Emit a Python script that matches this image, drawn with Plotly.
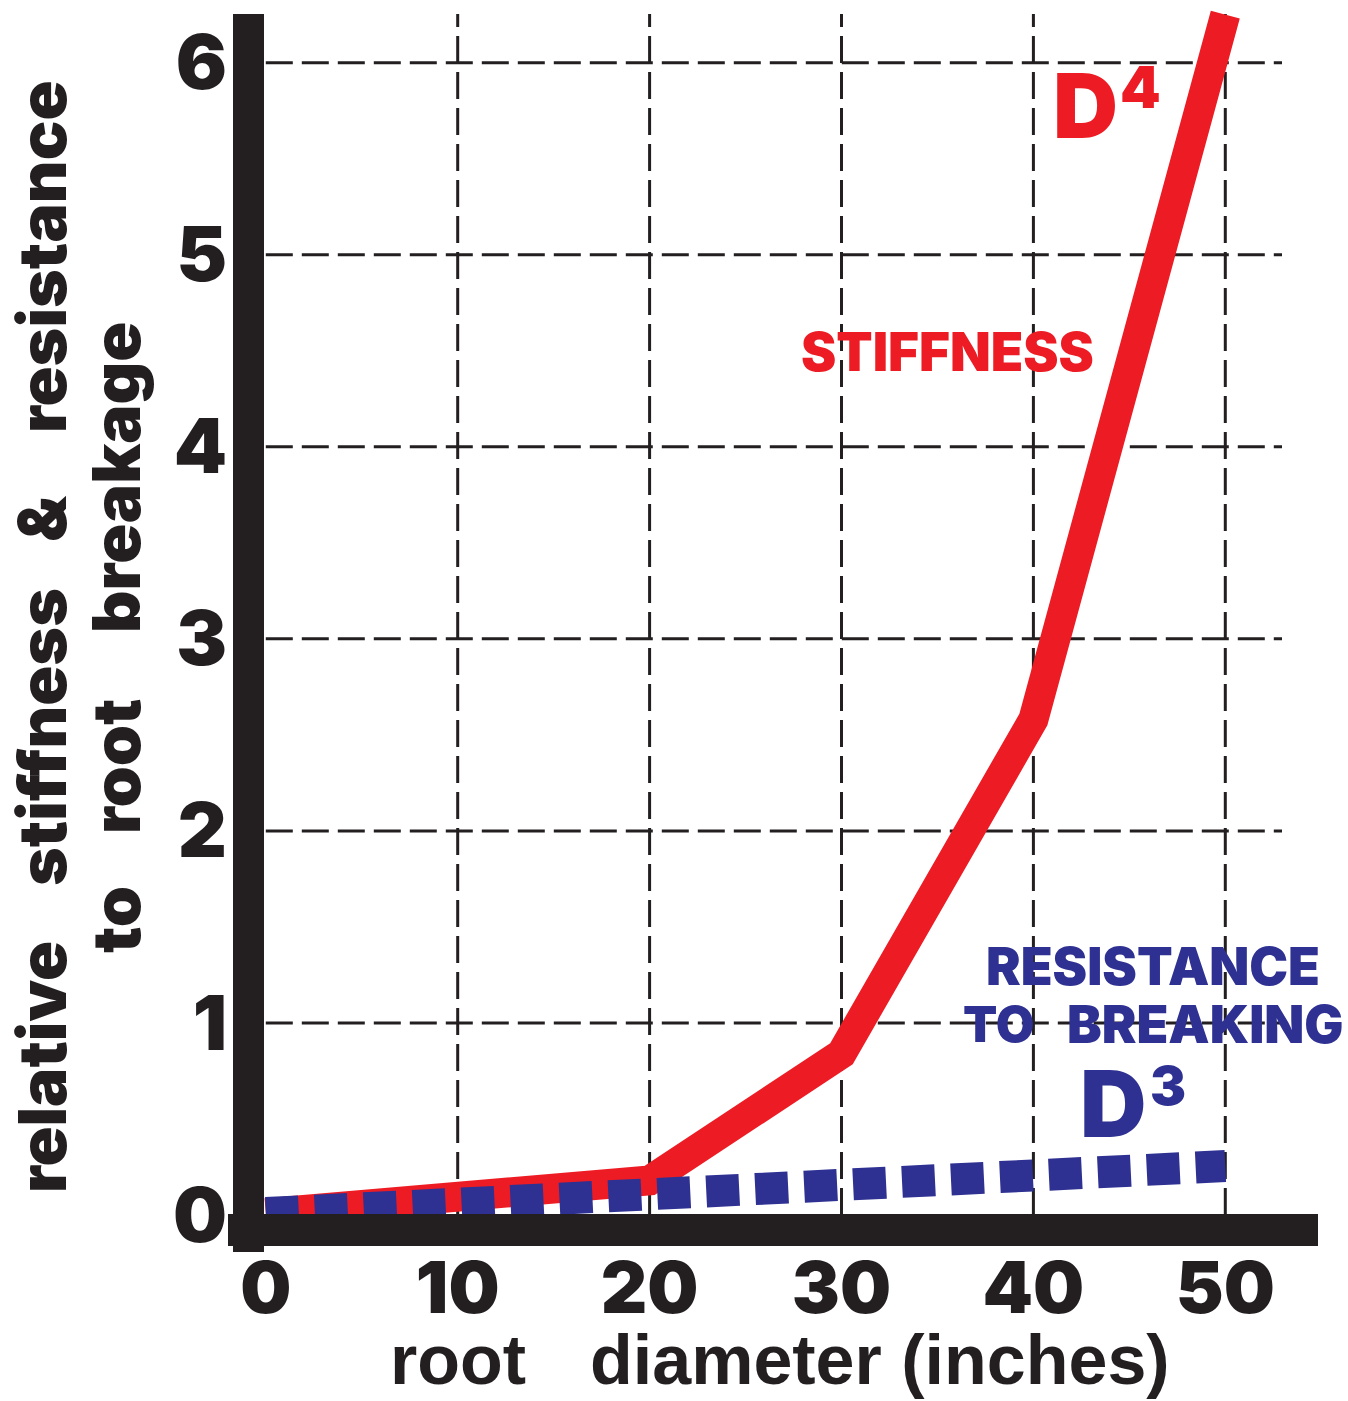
import plotly.graph_objects as go

# ---------------- data ----------------
stiff_x = [0, 20, 30, 40, 50]
stiff_y = [0.01, 0.18, 0.84, 2.58, 6.25]
resist_x = [0, 10, 20, 30, 40, 50]
resist_y = [0.01, 0.06, 0.10, 0.15, 0.20, 0.255]
x_tickvals = [0, 10, 20, 30, 40, 50]
x_ticktext = ["0", "10", "20", "30", "40", "50"]
y_tickvals = [0, 1, 2, 3, 4, 5, 6]
y_ticktext = ["0", "1", "2", "3", "4", "5", "6"]
x_grid = [10, 20, 30, 40, 50]
y_grid = [1, 2, 3, 4, 5, 6]

# ---------------- geometry ----------------
W, H = 1348, 1401
L, R, T, B = 228, 23, 0, 141
PW, PH = W - L - R, H - T - B
X0PX, XUNIT = 265.8, 19.19
Y0PX, YUNIT = 1215.0, 192.06
xrange = [(L - X0PX) / XUNIT, (W - R - X0PX) / XUNIT]
yrange = [(Y0PX - (H - B)) / YUNIT, (Y0PX - T) / YUNIT]


def px(x):
    return (x - L) / PW


def py(y):
    return (H - B - y) / PH


RED = "#ed1c24"
BLUE = "#2e3192"
BLACK = "#231f20"
HEAVY = "Inter, Roboto, 'Liberation Sans', Arial, sans-serif"
PLAIN = "'Liberation Sans', Arial, sans-serif"

fig = go.Figure()
fig.add_trace(go.Scatter(x=stiff_x, y=stiff_y, mode="lines",
                         line=dict(color=RED, width=30), hoverinfo="skip"))
fig.add_trace(go.Scatter(x=resist_x, y=resist_y, mode="lines",
                         line=dict(color=BLUE, width=32, dash="33px,16px"),
                         hoverinfo="skip"))

shapes = []
grid_top = (Y0PX - 14) / YUNIT
grid_right = (1282 - X0PX) / XUNIT
for gx in x_grid:
    shapes.append(dict(type="line", xref="x", yref="y", x0=gx, x1=gx, y0=0, y1=grid_top,
                       line=dict(color=BLACK, width=3, dash="27px,9px"), layer="below"))
for gy in y_grid:
    shapes.append(dict(type="line", xref="x", yref="y", x0=0, x1=grid_right, y0=gy, y1=gy,
                       line=dict(color=BLACK, width=3, dash="27px,9px"), layer="below"))
# thick black axis bars
shapes.append(dict(type="rect", xref="paper", yref="paper", x0=px(233), x1=px(264),
                   y0=py(1252), y1=py(14), fillcolor=BLACK, line=dict(width=0), layer="below"))
shapes.append(dict(type="rect", xref="paper", yref="paper", x0=px(228), x1=px(1318),
                   y0=py(1246), y1=py(1214), fillcolor=BLACK, line=dict(width=0), layer="above"))

ann = []


def text(t, x, y, size, color=BLACK, angle=0, family=HEAVY, weight=900, yanchor="middle"):
    ann.append(dict(text=t, x=px(x), y=py(y), xref="paper", yref="paper",
                    xanchor="center", yanchor=yanchor, showarrow=False, textangle=angle,
                    font=dict(family=family, size=size, color=color, weight=weight)))


# series labels
text("D", 1085, 105, 90, RED)
text("4", 1140, 87, 58, RED)
text("STIFFNESS", 947, 352, 53, RED)
text("RESISTANCE", 1153, 967, 52, BLUE)
text("TO", 998, 1024, 50, BLUE)
text("BREAKING", 1205, 1024, 52, BLUE)
text("D", 1113, 1103, 92, BLUE)
text("3", 1168, 1085, 54, BLUE)

# y axis title (two rotated lines, words spread out)
for word, yc in [("relative", 1067), ("stiffness", 737), ("&", 518), ("resistance", 257)]:
    text(word, 42, yc, 66, BLACK, angle=-90)
for word, yc in [("to", 920), ("root", 767), ("breakage", 478)]:
    text(word, 116, yc, 66, BLACK, angle=-90)

# x axis title
text("root", 458, 1401, 70, BLACK, family=PLAIN, weight=700, yanchor="bottom")
text("diameter (inches)", 880, 1401, 70, BLACK, family=PLAIN, weight=700, yanchor="bottom")

fig.update_layout(
    width=W, height=H,
    margin=dict(l=L, r=R, t=T, b=B, pad=0),
    paper_bgcolor="white", plot_bgcolor="white",
    showlegend=False,
    shapes=shapes, annotations=ann,
    xaxis=dict(range=xrange, tickvals=x_tickvals, ticktext=x_ticktext, showgrid=False,
               zeroline=False, showline=False, ticks="", ticklabelstandoff=-20,
               tickfont=dict(family=HEAVY, size=72, color=BLACK, weight=900)),
    yaxis=dict(range=yrange, tickvals=y_tickvals, ticktext=y_ticktext, showgrid=False,
               zeroline=False, showline=False, ticks="",
               tickfont=dict(family=HEAVY, size=76, color=BLACK, weight=900)),
)

fig.write_html("out.html", config={"displayModeBar": False},
               post_script="document.body.style.margin='0px';")
